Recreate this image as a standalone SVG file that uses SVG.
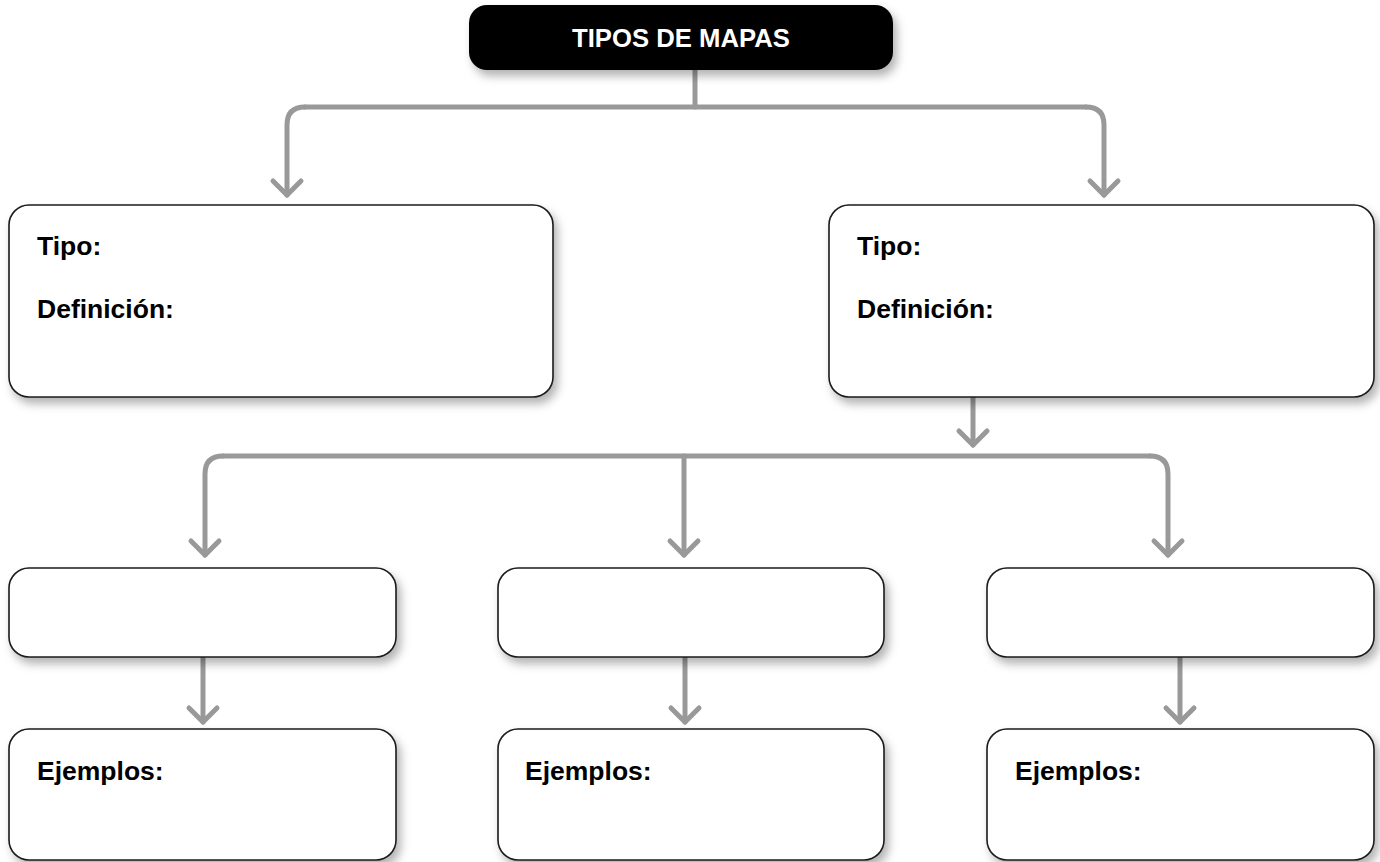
<svg xmlns="http://www.w3.org/2000/svg" width="1380" height="862" viewBox="0 0 1380 862">
<style>
.box{fill:#fff;stroke:#1a1a1a;stroke-width:1.6}
.title{fill:#000}
.lbl{font-family:"Liberation Sans",Arial,sans-serif;font-weight:bold;font-size:26.5px;fill:#000}
.ttl{font-family:"Liberation Sans",Arial,sans-serif;font-weight:bold;font-size:25.7px;fill:#fff}
.con{fill:none;stroke:#999;stroke-width:5;stroke-linecap:round;stroke-linejoin:round}
</style>
<defs>
<filter id="sh" x="-10%" y="-10%" width="125%" height="135%">
<feDropShadow dx="4" dy="6" stdDeviation="5" flood-color="#000" flood-opacity="0.3"/>
</filter>
<marker id="chev" markerUnits="userSpaceOnUse" markerWidth="40" markerHeight="40" refX="20" refY="20" orient="auto" viewBox="0 0 40 40">
<path d="M6,6 L20,20 L6,34" fill="none" stroke="#999" stroke-width="5" stroke-linecap="round" stroke-linejoin="round"/>
</marker>
</defs>
<g id="connectors">
<path class="con" d="M695,70 V107"/>
<path class="con" d="M305,107 H1086" />
<path class="con" d="M305,107 Q287,107 287,125 V195" marker-end="url(#chev)"/>
<path class="con" d="M1086,107 Q1104,107 1104,125 V195" marker-end="url(#chev)"/>
<path class="con" d="M973,397 V445" marker-end="url(#chev)"/>
<path class="con" d="M223,456 H1150"/>
<path class="con" d="M223,456 Q205,456 205,474 V555" marker-end="url(#chev)"/>
<path class="con" d="M1150,456 Q1168,456 1168,474 V555" marker-end="url(#chev)"/>
<path class="con" d="M684,456 V555" marker-end="url(#chev)"/>
<path class="con" d="M203,657 V722" marker-end="url(#chev)"/>
<path class="con" d="M685,657 V722" marker-end="url(#chev)"/>
<path class="con" d="M1180,657 V722" marker-end="url(#chev)"/>
</g>
<g id="title">
<rect class="title" x="469" y="5" width="424" height="65" rx="18" filter="url(#sh)"/>
<text class="ttl" x="681" y="47" text-anchor="middle">TIPOS DE MAPAS</text>
</g>
<g id="tipo-left">
<rect class="box" x="9" y="205" width="544" height="192" rx="20" filter="url(#sh)"/>
<text class="lbl" x="37" y="255">Tipo:</text>
<text class="lbl" x="37" y="318">Definición:</text>
</g>
<g id="tipo-right">
<rect class="box" x="829" y="205" width="545" height="192" rx="20" filter="url(#sh)"/>
<text class="lbl" x="857" y="255">Tipo:</text>
<text class="lbl" x="857" y="318">Definición:</text>
</g>
<g id="sub-1">
<rect class="box" x="9" y="568" width="387" height="89" rx="20" filter="url(#sh)"/>
</g>
<g id="sub-2">
<rect class="box" x="498" y="568" width="386" height="89" rx="20" filter="url(#sh)"/>
</g>
<g id="sub-3">
<rect class="box" x="987" y="568" width="387" height="89" rx="20" filter="url(#sh)"/>
</g>
<g id="ej-1">
<rect class="box" x="9" y="729" width="387" height="131" rx="20" filter="url(#sh)"/>
<text class="lbl" x="37" y="780">Ejemplos:</text>
</g>
<g id="ej-2">
<rect class="box" x="498" y="729" width="386" height="131" rx="20" filter="url(#sh)"/>
<text class="lbl" x="525" y="780">Ejemplos:</text>
</g>
<g id="ej-3">
<rect class="box" x="987" y="729" width="387" height="131" rx="20" filter="url(#sh)"/>
<text class="lbl" x="1015" y="780">Ejemplos:</text>
</g>
</svg>
